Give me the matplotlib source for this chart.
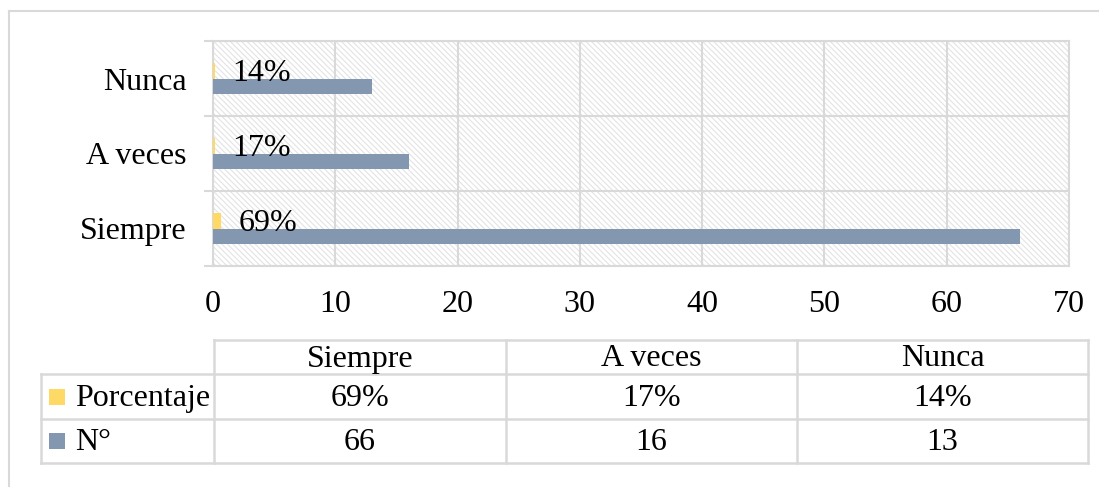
import matplotlib
matplotlib.use("Agg")
import matplotlib.pyplot as plt
from matplotlib.patches import Rectangle

categories = ["Siempre", "A veces", "Nunca"]
n_values = [66, 16, 13]
pct_values = [0.69, 0.17, 0.14]
pct_labels = ["69%", "17%", "14%"]
series_names = ["Porcentaje", "N°"]
x_ticks = [0, 10, 20, 30, 40, 50, 60, 70]

YELLOW = "#FFD966"
GREY = "#8497B0"
LINE = "#D9D9D9"
FS = 23

plt.rcParams["font.family"] = ["Liberation Serif", "DejaVu Serif"]
plt.rcParams["hatch.linewidth"] = 0.8

W, H = 1099, 487
fig = plt.figure(figsize=(W / 100, H / 100), dpi=100)
fig.patch.set_facecolor("white")

def fx(px):
    return px / W

def fy(py):
    return 1 - py / H

L, R, T, B = 213, 1069, 41, 266
ax = fig.add_axes([fx(L), fy(B), fx(R) - fx(L), fy(T) - fy(B)])
ax.set_xlim(0, 70)
ax.set_ylim(-0.5, 2.5)

bg = Rectangle((0, 0), 1, 1, transform=ax.transAxes, facecolor="white",
               hatch="\\\\\\\\\\\\", edgecolor="#E3E3E3", linewidth=0, zorder=0)
ax.add_patch(bg)

h = 0.213
ys = list(range(len(categories)))
ax.barh([y + h / 2 for y in ys], pct_values, height=h, color=YELLOW, zorder=3)
ax.barh([y - h / 2 for y in ys], n_values, height=h, color=GREY, zorder=3)

for y, v, lab in zip(ys, pct_values, pct_labels):
    ax.annotate(lab, xy=(v, y + h / 2), xytext=(12.5, -2), textcoords="offset points",
                ha="left", va="center", fontsize=FS, zorder=4)

ax.set_xticks(x_ticks)
ax.set_xticklabels([str(t) for t in x_ticks], fontsize=FS)
ax.tick_params(axis="x", length=0, pad=17)
ax.set_yticks(ys)
ax.set_yticklabels(categories, fontsize=FS)
ax.tick_params(axis="y", which="major", length=0, pad=19)
ax.set_yticks([-0.5, 0.5, 1.5, 2.5], minor=True)
ax.tick_params(axis="y", which="minor", length=6.5, width=1.5, color=LINE)
ax.grid(axis="x", which="major", color=LINE, linewidth=1.5, zorder=1)
ax.grid(axis="y", which="minor", color=LINE, linewidth=1.5, zorder=1)
ax.set_axisbelow(True)
for s in ax.spines.values():
    s.set_color(LINE)
    s.set_linewidth(1.5)

# overlay axes in pixel coordinates for frame and data table
ov = fig.add_axes([0, 0, 1, 1])
ov.set_xlim(0, W)
ov.set_ylim(H, 0)
ov.axis("off")
ov.patch.set_alpha(0)

ov.plot([9, W], [11, 11], color=LINE, lw=1.5)
ov.plot([9, 9], [11, H], color=LINE, lw=1.5)

cols = [214, 506, 797, 1088]
rows = [340, 374, 419, 463]
left = 41
tw = 1.8
ov.plot([cols[0], cols[-1]], [rows[0], rows[0]], color=LINE, lw=tw)
for r in rows[1:]:
    ov.plot([left, cols[-1]], [r, r], color=LINE, lw=tw)
for c in cols:
    ov.plot([c, c], [rows[0], rows[-1]], color=LINE, lw=tw)
ov.plot([left, left], [rows[1], rows[-1]], color=LINE, lw=tw)

dy = 2
for i, cat in enumerate(categories):
    cx = (cols[i] + cols[i + 1]) / 2
    ov.text(cx, (rows[0] + rows[1]) / 2 + dy, cat, ha="center", va="center", fontsize=FS)
    ov.text(cx, (rows[1] + rows[2]) / 2 + dy, pct_labels[i], ha="center", va="center", fontsize=FS)
    ov.text(cx, (rows[2] + rows[3]) / 2 + dy, str(n_values[i]), ha="center", va="center", fontsize=FS)

for j, (name, col) in enumerate(zip(series_names, [YELLOW, GREY])):
    cy = (rows[j + 1] + rows[j + 2]) / 2
    ov.add_patch(Rectangle((49, cy - 8), 16, 16, facecolor=col, edgecolor="none"))
    ov.text(75, cy + dy, name, ha="left", va="center", fontsize=FS)

fig.savefig("out.png", dpi=100, facecolor="white")
